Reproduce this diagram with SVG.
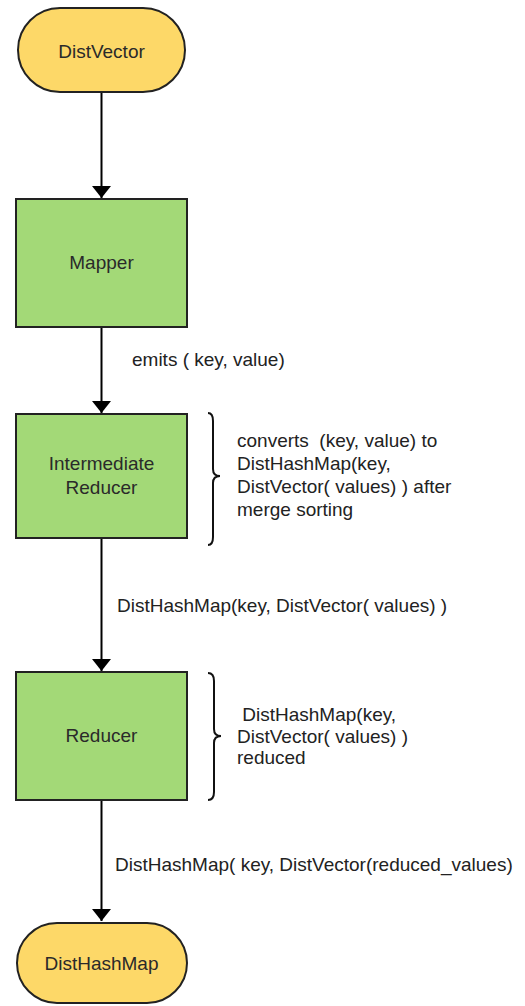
<svg xmlns="http://www.w3.org/2000/svg" width="525" height="1006" viewBox="0 0 525 1006">
<style>
.term{fill:#fdd868;stroke:#222;stroke-width:2}
.proc{fill:#a3d977;stroke:#222;stroke-width:2}
.nt{font-family:"Liberation Sans",Arial,sans-serif;font-size:19px;fill:#2a2a2a;text-anchor:middle;dominant-baseline:central}
.lb{font-family:"Liberation Sans",Arial,sans-serif;font-size:19px;fill:#222}
.ln{stroke:#000;stroke-width:2;fill:none}
.br{stroke:#111;stroke-width:2;fill:none}
</style>
<defs>
<marker id="ah" viewBox="0 0 12 19" refX="12" refY="9.5" markerWidth="12" markerHeight="19" markerUnits="userSpaceOnUse" orient="auto">
<path d="M0,0 L12,9.5 L0,19 Z" fill="#000"/>
</marker>
</defs>
<rect width="525" height="1006" fill="#fff"/>
<g id="connectors">
<line class="ln" x1="101.5" y1="92" x2="101.5" y2="198" marker-end="url(#ah)"/>
<line class="ln" x1="101.5" y1="327" x2="101.5" y2="413" marker-end="url(#ah)"/>
<line class="ln" x1="101.5" y1="538" x2="101.5" y2="671" marker-end="url(#ah)"/>
<line class="ln" x1="101.5" y1="800" x2="101.5" y2="921" marker-end="url(#ah)"/>
<text class="lb" x="132" y="366">emits ( key, value)</text>
<text class="lb" x="117" y="612">DistHashMap(key, DistVector( values) )</text>
<text class="lb" x="115" y="871">DistHashMap( key, DistVector(reduced_values)</text>
</g>
<g id="n-distvector">
<rect class="term" x="18" y="8" width="167" height="84" rx="42" ry="42"/>
<text class="nt" x="101.5" y="51">DistVector</text>
</g>
<g id="n-mapper">
<rect class="proc" x="16" y="199" width="171" height="128"/>
<text class="nt" x="101.5" y="262">Mapper</text>
</g>
<g id="n-intermediate">
<rect class="proc" x="16" y="414" width="171" height="124"/>
<text class="nt" x="101.5" y="463">Intermediate</text>
<text class="nt" x="101.5" y="487">Reducer</text>
</g>
<g id="n-intermediate-note">
<path class="br" d="M208,413 Q213,413 213,421 L213,469 Q213,476 220,476 Q213,476 213,483 L213,537 Q213,545 208,545"/>
<text class="lb" x="237" y="447" xml:space="preserve">converts  (key, value) to</text>
<text class="lb" x="237" y="470">DistHashMap(key,</text>
<text class="lb" x="237" y="493">DistVector( values) ) after</text>
<text class="lb" x="237" y="516">merge sorting</text>
</g>
<g id="n-reducer">
<rect class="proc" x="16" y="672" width="171" height="128"/>
<text class="nt" x="101.5" y="735">Reducer</text>
</g>
<g id="n-reducer-note">
<path class="br" d="M208,673 Q214,673 214,681 L214,729 Q214,736 221,736 Q214,736 214,743 L214,792 Q214,800 208,800"/>
<text class="lb" x="237" y="721" xml:space="preserve"> DistHashMap(key,</text>
<text class="lb" x="237" y="743">DistVector( values) )</text>
<text class="lb" x="237" y="764">reduced</text>
</g>
<g id="n-disthashmap">
<rect class="term" x="17" y="923" width="170" height="80" rx="40" ry="40"/>
<text class="nt" x="101.5" y="963">DistHashMap</text>
</g>
</svg>
